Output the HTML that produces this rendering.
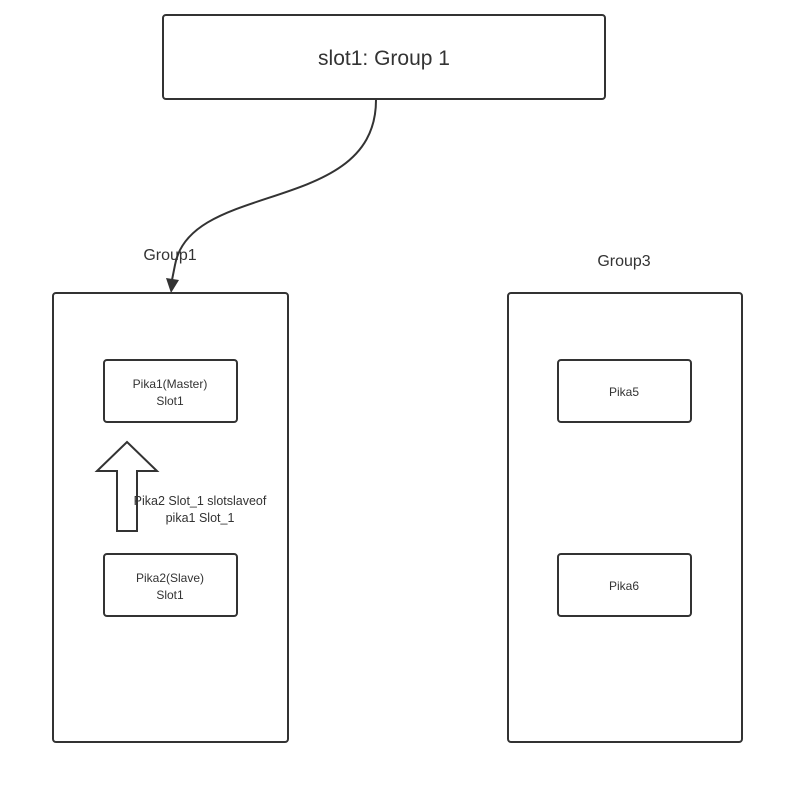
<!DOCTYPE html>
<html><head><style>
body{margin:0;background:#fff;}
svg text{font-family:"Liberation Sans",sans-serif;fill:#333;}
</style></head><body>
<svg width="794" height="786" xmlns="http://www.w3.org/2000/svg">
<rect width="794" height="786" fill="#fff"/>
<g fill="none" stroke="#333" stroke-width="2">
<rect x="163" y="15" width="442" height="84" rx="3"/>
<rect x="53" y="293" width="235" height="449" rx="3"/>
<rect x="508" y="293" width="234" height="449" rx="3"/>
<rect x="104" y="360" width="133" height="62" rx="3"/>
<rect x="104" y="554" width="133" height="62" rx="3"/>
<rect x="558" y="360" width="133" height="62" rx="3"/>
<rect x="558" y="554" width="133" height="62" rx="3"/>
<path d="M376 100 C376 215 190 180 175 265 L172 280"/>
</g>
<polygon points="166,278 179,280 171,293" fill="#333"/>
<polygon points="127,442 157,471 137,471 137,531 117,531 117,471 97,471" fill="#fff" stroke="#333" stroke-width="2"/>
<text x="384" y="65" font-size="21" text-anchor="middle">slot1: Group 1</text>
<text x="170" y="260" font-size="16" text-anchor="middle">Group1</text>
<text x="624" y="266" font-size="16" text-anchor="middle">Group3</text>
<text x="170" y="388" font-size="12" text-anchor="middle">Pika1(Master)</text>
<text x="170" y="405" font-size="12" text-anchor="middle">Slot1</text>
<text x="170" y="582" font-size="12" text-anchor="middle">Pika2(Slave)</text>
<text x="170" y="599" font-size="12" text-anchor="middle">Slot1</text>
<text x="624" y="396" font-size="12" text-anchor="middle">Pika5</text>
<text x="624" y="590" font-size="12" text-anchor="middle">Pika6</text>
<text x="200" y="505" font-size="12.5" text-anchor="middle">Pika2 Slot_1 slotslaveof</text>
<text x="200" y="522" font-size="12.5" text-anchor="middle">pika1 Slot_1</text>
</svg>
</body></html>
